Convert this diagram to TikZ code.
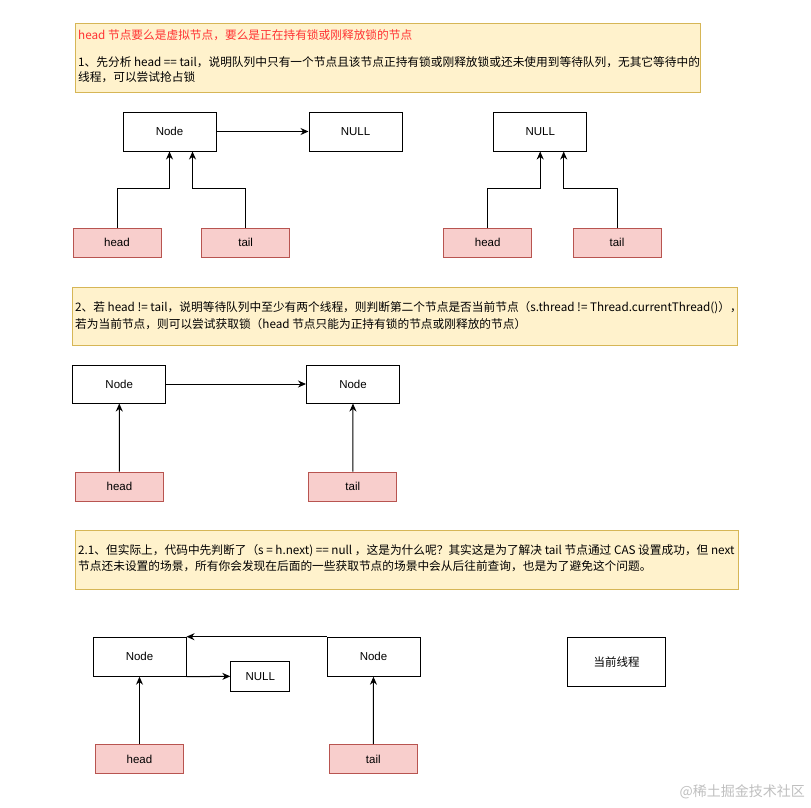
\documentclass[tikz,border=0pt]{standalone}
\usepackage{fontspec}
\setmainfont{Liberation Sans}
\newfontfamily\cjk{Noto Sans CJK SC}
\usetikzlibrary{arrows.meta}
\definecolor{noteFill}{HTML}{FFF2CC}
\definecolor{noteLine}{HTML}{D6B656}
\definecolor{ptrFill}{HTML}{F8CECC}
\definecolor{ptrLine}{HTML}{B85450}
\definecolor{noteRed}{HTML}{FF3333}
\begin{document}
\begin{tikzpicture}[x=1pt,y=-1pt,
	note/.style={draw=noteLine,fill=noteFill,line width=1pt,inner sep=0pt},
	notetext/.style={anchor=west,inner sep=0pt,font=\cjk\fontsize{11.7}{14}\selectfont},
	qnode/.style={draw,line width=1pt,minimum width=93pt,minimum height=39pt,inner sep=0pt,font=\fontsize{11.5}{13}\selectfont},
	ptr/.style={draw=ptrLine,fill=ptrFill,line width=1pt,minimum width=88pt,minimum height=29pt,inner sep=0pt,font=\fontsize{11.5}{13}\selectfont},
	link/.style={line width=1pt,-{Stealth[length=8pt,width=7pt]}}]
	\useasboundingbox (0,0) rectangle (811,807);
	% notes
	\node[note,minimum width=625pt,minimum height=69pt] (noteA) at (387.5,57.5) {};
	\node[notetext,text=noteRed] (noteAr) at (78,35) {head 节点要么是虚拟节点，要么是正在持有锁或刚释放锁的节点};
	\node[notetext] (noteA1) at (78,62) {1、先分析 head == tail，说明队列中只有一个节点且该节点正持有锁或刚释放锁或还未使用到等待队列，无其它等待中的};
	\node[notetext] (noteA2) at (78,77) {线程，可以尝试抢占锁};
	\node[note,minimum width=665pt,minimum height=58pt] (noteB) at (404.5,316) {};
	\node[notetext] (noteB1) at (75,308) {2、若 head != tail，说明等待队列中至少有两个线程，则判断第二个节点是否当前节点（s.thread != Thread.currentThread()），};
	\node[notetext] (noteB2) at (75,324) {若为当前节点，则可以尝试获取锁（head 节点只能为正持有锁的节点或刚释放的节点）};
	\node[note,minimum width=663pt,minimum height=59pt] (noteC) at (406.5,559.5) {};
	\node[notetext] (noteC1) at (78,551) {2.1、但实际上，代码中先判断了（s = h.next) == null ，这是为什么呢？其实这是为了解决 tail 节点通过 CAS 设置成功，但 next};
	\node[notetext] (noteC2) at (78,566) {节点还未设置的场景，所有你会发现在后面的一些获取节点的场景中会从后往前查询，也是为了避免这个问题。};
	% case 1
	\node[qnode] (nodeA) at (169.5,131.5) {Node};
	\node[qnode] (nullA) at (355.5,131.5) {NULL};
	\node[ptr] (headA) at (117,242.5) {head};
	\node[ptr] (tailA) at (245.7,242.5) {tail};
	\draw[link] (nodeA) -- (nullA);
	\draw[link] (headA.north) -- ++(0,-39) -| (nodeA.south);
	\draw[link] (tailA.north) -- ++(0,-39) -| ([xshift=23pt]nodeA.south);
	\node[qnode] (nullB) at (540.2,131.5) {NULL};
	\node[ptr] (headB) at (487.7,242.5) {head};
	\node[ptr] (tailB) at (617,242.5) {tail};
	\draw[link] (headB.north) -- ++(0,-39) -| (nullB.south);
	\draw[link] (tailB.north) -- ++(0,-39) -| ([xshift=23.5pt]nullB.south);
	% case 2
	\node[qnode,minimum height=38pt] (nodeC) at (119.2,384) {Node};
	\node[qnode,minimum height=38pt] (nodeD) at (353,384) {Node};
	\node[ptr] (headC) at (119.5,486.7) {head};
	\node[ptr] (tailD) at (352.8,486.7) {tail};
	\draw[link] (nodeC) -- (nodeD);
	\draw[link] (headC) -- (nodeC);
	\draw[link] (tailD) -- (nodeD);
	% case 2.1
	\node[qnode] (nodeE) at (139.5,656.7) {Node};
	\node[qnode,minimum width=59pt,minimum height=29.5pt] (nullE) at (260.3,676.3) {NULL};
	\node[qnode] (nodeF) at (373.5,656.7) {Node};
	\node[ptr] (headE) at (139.5,759) {head};
	\node[ptr] (tailF) at (373.3,759) {tail};
	\draw[link] (nodeE.south east) -- (nullE.west);
	\draw[link] (nodeF.north west) -- (nodeE.north east);
	\draw[link] (headE) -- (nodeE);
	\draw[link] (tailF) -- (nodeF);
	\node[qnode,minimum width=98pt,minimum height=49pt,font=\cjk\fontsize{11.5}{13}\selectfont] (thread) at (616.7,661.8) {当前线程};
	\node[anchor=east,inner sep=0pt,text=black!25,font=\cjk\fontsize{14}{16}\selectfont] (mark) at (805,792) {@稀土掘金技术社区};
\end{tikzpicture}
\end{document}
